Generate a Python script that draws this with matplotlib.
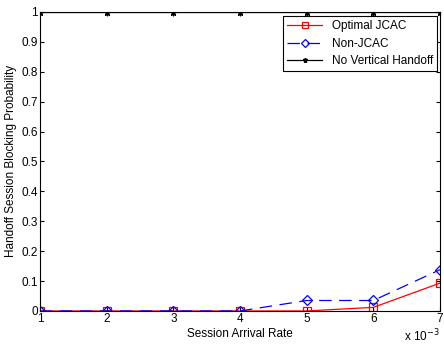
import matplotlib.pyplot as plt
from matplotlib.ticker import FuncFormatter

# Session arrival rate (x 10^-3) and blocking probabilities
arrival_rate = [0.001, 0.002, 0.003, 0.004, 0.005, 0.006, 0.007]
optimal_jcac = [0.0, 0.0, 0.0, 0.0, 0.0, 0.012, 0.093]
non_jcac = [0.0, 0.0, 0.0, 0.0, 0.035, 0.035, 0.138]
no_vertical = [1.0, 1.0, 1.0, 1.0, 1.0, 1.0, 1.0]

plt.rcParams['font.family'] = ['Liberation Sans', 'DejaVu Sans']
plt.rcParams['font.size'] = 8.5

fig = plt.figure(figsize=(4.44, 3.49), dpi=100)
ax = fig.add_axes([0.09, 0.109, 0.901, 0.857])

ax.plot(arrival_rate, optimal_jcac, color='red', lw=0.9, marker='s', ms=6,
        mfc='none', mec='red', mew=0.9, label='Optimal JCAC')
ax.plot(arrival_rate, non_jcac, color='blue', lw=0.9, marker='D', ms=5,
        mfc='none', mec='blue', mew=0.9, dashes=(10, 6), label='Non-JCAC')
ax.plot(arrival_rate, no_vertical, color='black', lw=0.9, marker='*', ms=4.5,
        label='No Vertical Handoff')

ax.set_xlim(0.001, 0.007)
ax.set_ylim(0, 1)
ax.set_xticks(arrival_rate)
ax.xaxis.set_major_formatter(FuncFormatter(lambda v, p: '%d' % round(v * 1000)))
ax.set_yticks([i / 10 for i in range(11)])
ax.yaxis.set_major_formatter(FuncFormatter(lambda v, p: '0' if v == 0 else ('1' if v == 1 else '%.1f' % v)))
ax.tick_params(direction='in', length=3, width=0.8, top=True, right=True, pad=1.5)
ax.text(1.0, -0.1, 'x 10$^{-3}$', transform=ax.transAxes, ha='right', va='baseline')

ax.set_xlabel('Session Arrival Rate', labelpad=2)
ax.set_ylabel('Handoff Session Blocking Probability', labelpad=3)

leg = ax.legend(loc='upper right', bbox_to_anchor=(0.993, 0.985), borderaxespad=0,
                fancybox=False, edgecolor='black', framealpha=1, borderpad=0.35,
                handlelength=3.0, labelspacing=0.45, markerscale=0.8)
leg.get_frame().set_linewidth(0.8)

fig.savefig('out.png', dpi=100)
